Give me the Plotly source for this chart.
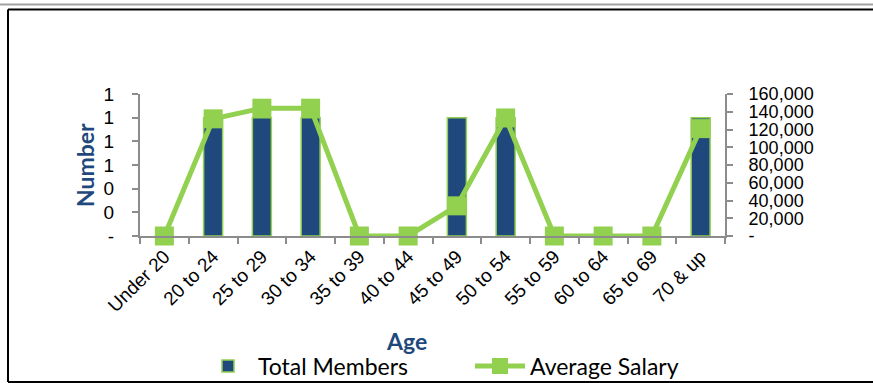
import plotly.graph_objects as go

categories = ["Under 20", "20 to 24", "25 to 29", "30 to 34", "35 to 39", "40 to 44",
              "45 to 49", "50 to 54", "55 to 59", "60 to 64", "65 to 69", "70 & up"]
total_members = [0, 1, 1, 1, 0, 0, 1, 1, 0, 0, 0, 1]
average_salary = [0, 132000, 144000, 144000, 0, 0, 34000, 133000, 0, 0, 0, 121000]

left_tickvals = [0, 0.2, 0.4, 0.6, 0.8, 1.0, 1.2]
left_ticktext = ["-", "0", "0", "1", "1", "1", "1"]
right_tickvals = [0, 20000, 40000, 60000, 80000, 100000, 120000, 140000, 160000]
right_ticktext = ["-", "20,000", "40,000", "60,000", "80,000", "100,000", "120,000", "140,000", "160,000"]

BLUE = "#1F497D"
GREEN = "#92D050"
AXIS = "#8C8C8C"
TICKFONT = dict(family="Liberation Sans, Arial", size=19, color="#000000")
RTICKFONT = dict(family="Liberation Sans, Arial", size=18, color="#000000")

# plot area in pixels
L, R, T, B = 140, 725, 94, 236
W, H = 873, 383
pw, ph = R - L, B - T

def px(x):
    return (x - L) / pw

def py(y):
    return (B - y) / ph

fig = go.Figure()
fig.add_trace(go.Bar(
    x=categories, y=total_members, name="Total Members",
    marker=dict(color=BLUE, line=dict(color=GREEN, width=1.5)),
    yaxis="y",
))
fig.add_trace(go.Scatter(
    x=categories, y=average_salary, name="Average Salary", mode="lines+markers",
    line=dict(color=GREEN, width=5),
    marker=dict(symbol="square", size=19, color=GREEN),
    yaxis="y2", cliponaxis=False,
))

fig.update_layout(
    width=W, height=H,
    margin=dict(l=L, r=W - R, t=T, b=H - B, autoexpand=False),
    paper_bgcolor="white", plot_bgcolor="white",
    bargap=0.61,
    showlegend=True,
    legend=dict(orientation="h", x=px(198), xanchor="left", y=py(366), yanchor="middle",
                font=dict(family="Lato", size=23, color="#000000"),
                entrywidth=207, entrywidthmode="pixels", itemwidth=50,
                bgcolor="rgba(0,0,0,0)"),
    xaxis=dict(
        type="category", range=[-0.5, 11.5], showgrid=False, showline=True,
        linecolor=AXIS, linewidth=2,
        ticks="outside", ticklen=6, tickcolor=AXIS, tickwidth=2, tickson="boundaries",
        tickangle=-45, tickfont=TICKFONT, automargin=False,
    ),
    yaxis=dict(
        range=[0, 1.2], tickvals=left_tickvals, ticktext=left_ticktext,
        showgrid=False, showline=True, linecolor=AXIS, linewidth=2,
        ticks="outside", ticklen=6, tickcolor=AXIS, tickwidth=2,
        tickfont=TICKFONT, ticklabelstandoff=14, zeroline=False, automargin=False,
    ),
    yaxis2=dict(
        range=[0, 160000], tickvals=right_tickvals, ticktext=right_ticktext,
        overlaying="y", side="right", showgrid=False, showline=True,
        linecolor=AXIS, linewidth=2, ticks="outside", ticklen=6, tickcolor=AXIS,
        tickwidth=2, tickfont=RTICKFONT, ticklabelstandoff=12, zeroline=False,
        automargin=False,
    ),
    annotations=[
        dict(text="<b>Number</b>", x=px(85), y=py(165), xref="paper", yref="paper",
             xanchor="center", yanchor="middle",
             textangle=-90, showarrow=False,
             font=dict(family="Lato", size=23, color=BLUE)),
        dict(text="<b>Age</b>", x=px(406), y=py(341), xref="paper", yref="paper",
             xanchor="center", yanchor="middle",
             showarrow=False, font=dict(family="Lato", size=23, color=BLUE)),
    ],
    shapes=[
        dict(type="line", xref="paper", yref="paper", x0=px(0), x1=px(W), y0=py(4.5), y1=py(4.5),
             line=dict(color="#A0A0A0", width=2)),
        dict(type="line", xref="paper", yref="paper", x0=px(8), x1=px(W), y0=py(9.5), y1=py(9.5),
             line=dict(color="#000000", width=2)),
        dict(type="line", xref="paper", yref="paper", x0=px(8), x1=px(8), y0=py(9.5), y1=py(382),
             line=dict(color="#000000", width=2)),
        dict(type="line", xref="paper", yref="paper", x0=px(8), x1=px(W), y0=py(382), y1=py(382),
             line=dict(color="#000000", width=2)),
    ],
)

fig.write_html("out.html")
